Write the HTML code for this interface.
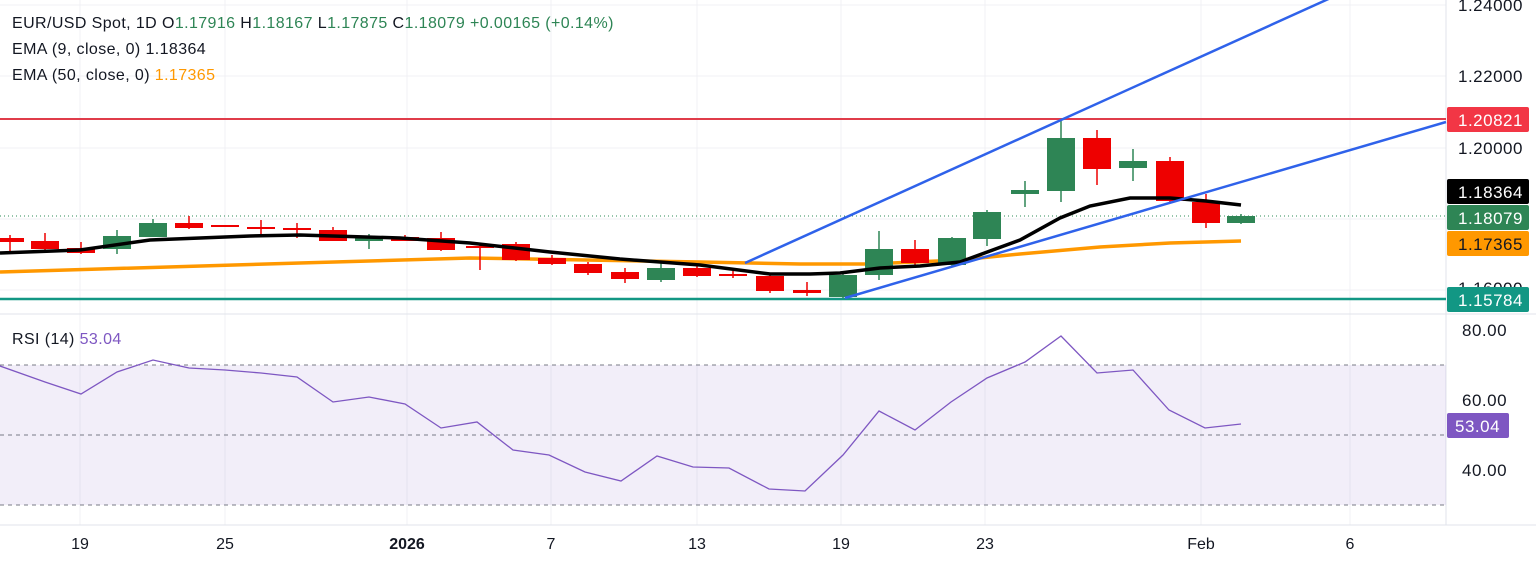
<!DOCTYPE html>
<html><head><meta charset="utf-8"><style>
html,body{margin:0;padding:0;background:#fff;}
svg{display:block;font-family:"Liberation Sans",sans-serif;}
</style></head><body>
<svg width="1536" height="564" viewBox="0 0 1536 564" xmlns="http://www.w3.org/2000/svg">
<rect width="1536" height="564" fill="#fff"/>
<g stroke="#f0f1f4" stroke-width="1">
<line x1="0" y1="5" x2="1446" y2="5"/><line x1="0" y1="76" x2="1446" y2="76"/><line x1="0" y1="148" x2="1446" y2="148"/><line x1="0" y1="219" x2="1446" y2="219"/><line x1="0" y1="290" x2="1446" y2="290"/>
<line x1="80" y1="0" x2="80" y2="525"/><line x1="225" y1="0" x2="225" y2="525"/><line x1="407" y1="0" x2="407" y2="525"/><line x1="551" y1="0" x2="551" y2="525"/><line x1="697" y1="0" x2="697" y2="525"/><line x1="841" y1="0" x2="841" y2="525"/><line x1="985" y1="0" x2="985" y2="525"/><line x1="1201" y1="0" x2="1201" y2="525"/><line x1="1350" y1="0" x2="1350" y2="525"/>
</g>
<line x1="1446" y1="0" x2="1446" y2="525" stroke="#e0e3eb"/>
<line x1="0" y1="314" x2="1536" y2="314" stroke="#e0e3eb"/>
<line x1="0" y1="525" x2="1536" y2="525" stroke="#e0e3eb"/>
<rect x="0" y="365" width="1446" height="140" fill="#7e57c2" fill-opacity="0.1"/>
<g stroke="#787b86" stroke-dasharray="4,4" stroke-width="1">
<line x1="0" y1="365" x2="1446" y2="365"/><line x1="0" y1="435" x2="1446" y2="435"/><line x1="0" y1="505" x2="1446" y2="505"/>
</g>
<line x1="0" y1="119" x2="1446" y2="119" stroke="#e03c4a" stroke-width="2"/>
<line x1="0" y1="299" x2="1446" y2="299" stroke="#129784" stroke-width="2.5"/>
<line x1="0" y1="216" x2="1446" y2="216" stroke="#2e8b57" stroke-dasharray="1,3" stroke-width="1"/>
<polyline fill="none" stroke="#ff9800" stroke-width="3.5" points="0,272 100,269 300,263 470,258 700,262 800,264 870,264 960,260 1020,254 1100,247 1170,243 1241,241"/>
<g stroke-width="1.5">
<line x1="10" y1="235" x2="10" y2="254" stroke="#e00"/>
<line x1="45" y1="233" x2="45" y2="251" stroke="#e00"/>
<line x1="81" y1="242" x2="81" y2="254" stroke="#e00"/>
<line x1="117" y1="230" x2="117" y2="254" stroke="#2e8555"/>
<line x1="153" y1="219" x2="153" y2="237" stroke="#2e8555"/>
<line x1="189" y1="216" x2="189" y2="229" stroke="#e00"/>
<line x1="261" y1="220" x2="261" y2="234" stroke="#e00"/>
<line x1="297" y1="223" x2="297" y2="238" stroke="#e00"/>
<line x1="333" y1="227" x2="333" y2="241" stroke="#e00"/>
<line x1="369" y1="234" x2="369" y2="249" stroke="#2e8555"/>
<line x1="405" y1="235" x2="405" y2="241" stroke="#e00"/>
<line x1="441" y1="232" x2="441" y2="251" stroke="#e00"/>
<line x1="480" y1="245" x2="480" y2="270" stroke="#e00"/>
<line x1="516" y1="242" x2="516" y2="261" stroke="#e00"/>
<line x1="552" y1="255" x2="552" y2="265" stroke="#e00"/>
<line x1="588" y1="262" x2="588" y2="275" stroke="#e00"/>
<line x1="625" y1="268" x2="625" y2="283" stroke="#e00"/>
<line x1="661" y1="262" x2="661" y2="282" stroke="#2e8555"/>
<line x1="697" y1="265" x2="697" y2="277" stroke="#e00"/>
<line x1="733" y1="271" x2="733" y2="278" stroke="#e00"/>
<line x1="770" y1="274" x2="770" y2="293" stroke="#e00"/>
<line x1="807" y1="282" x2="807" y2="296" stroke="#e00"/>
<line x1="843" y1="274" x2="843" y2="298" stroke="#2e8555"/>
<line x1="879" y1="231" x2="879" y2="280" stroke="#2e8555"/>
<line x1="915" y1="240" x2="915" y2="266" stroke="#e00"/>
<line x1="952" y1="237" x2="952" y2="266" stroke="#2e8555"/>
<line x1="987" y1="210" x2="987" y2="246" stroke="#2e8555"/>
<line x1="1025" y1="181" x2="1025" y2="207" stroke="#2e8555"/>
<line x1="1061" y1="121" x2="1061" y2="202" stroke="#2e8555"/>
<line x1="1097" y1="130" x2="1097" y2="185" stroke="#e00"/>
<line x1="1133" y1="149" x2="1133" y2="181" stroke="#2e8555"/>
<line x1="1170" y1="157" x2="1170" y2="203" stroke="#e00"/>
<line x1="1206" y1="194" x2="1206" y2="228" stroke="#e00"/>
<line x1="1241" y1="214" x2="1241" y2="224" stroke="#2e8555"/>
</g>
<g fill="#e00">
<rect x="-4" y="238" width="28" height="4"/>
<rect x="31" y="241" width="28" height="8"/>
<rect x="67" y="248" width="28" height="5"/>
<rect x="175" y="223" width="28" height="5"/>
<rect x="211" y="225" width="28" height="2"/>
<rect x="247" y="227" width="28" height="2"/>
<rect x="283" y="228" width="28" height="2"/>
<rect x="319" y="230" width="28" height="11"/>
<rect x="391" y="237" width="28" height="4"/>
<rect x="427" y="238" width="28" height="12"/>
<rect x="466" y="246" width="28" height="2"/>
<rect x="502" y="244" width="28" height="16"/>
<rect x="538" y="258" width="28" height="6"/>
<rect x="574" y="264" width="28" height="9"/>
<rect x="611" y="272" width="28" height="7"/>
<rect x="683" y="268" width="28" height="8"/>
<rect x="719" y="274" width="28" height="2"/>
<rect x="756" y="276" width="28" height="15"/>
<rect x="793" y="290" width="28" height="3"/>
<rect x="901" y="249" width="28" height="14"/>
<rect x="1083" y="138" width="28" height="31"/>
<rect x="1156" y="161" width="28" height="40"/>
<rect x="1192" y="202" width="28" height="21"/>
</g>
<g fill="#2e8555">
<rect x="103" y="236" width="28" height="13"/>
<rect x="139" y="223" width="28" height="14"/>
<rect x="355" y="237" width="28" height="4"/>
<rect x="647" y="268" width="28" height="12"/>
<rect x="829" y="275" width="28" height="22"/>
<rect x="865" y="249" width="28" height="26"/>
<rect x="938" y="238" width="28" height="27"/>
<rect x="973" y="212" width="28" height="27"/>
<rect x="1011" y="190" width="28" height="4"/>
<rect x="1047" y="138" width="28" height="53"/>
<rect x="1119" y="161" width="28" height="7"/>
<rect x="1227" y="216" width="28" height="7"/>
</g>
<polyline fill="none" stroke="#000" stroke-width="3.5" points="0,253 80,250 150,240 250,236 300,235 400,238 470,243 550,252 620,259 700,265 770,274 810,274 840,273 880,268 920,266 960,262 1020,240 1060,218 1090,206 1130,198 1170,198 1206,201 1241,205"/>
<line x1="745" y1="263" x2="1335" y2="-4" stroke="#2f62ea" stroke-width="2.5"/>
<line x1="845" y1="298" x2="1446" y2="122" stroke="#2f62ea" stroke-width="2.5"/>
<polyline fill="none" stroke="#7e57c2" stroke-width="1.3" points="0,366 45,382 81,394 117,372 153,360 189,368 225,370 261,373 297,377 333,402 369,397 405,404 441,428 477,422 513,450 549,455 585,472 621,481 657,456 693,467 729,468 769,489 805,491 843,455 879,411 915,430 951,402 987,378 1025,362 1061,336 1097,373 1133,370 1169,410 1205,428 1241,424"/>
<g font-size="17" fill="#131722" letter-spacing="0.5">
<text x="1458" y="11">1.24000</text>
<text x="1458" y="82">1.22000</text>
<text x="1458" y="154">1.20000</text>
<text x="1458" y="294">1.16000</text>
<text x="1462" y="336">80.00</text>
<text x="1462" y="406">60.00</text>
<text x="1462" y="476">40.00</text>
</g>
<rect x="1447" y="107" width="82" height="25" rx="2" fill="#f23645"/>
<rect x="1447" y="179" width="82" height="25" rx="2" fill="#000"/>
<rect x="1447" y="205" width="82" height="25" rx="2" fill="#2e8555"/>
<rect x="1447" y="231" width="82" height="25" rx="2" fill="#ff9800"/>
<rect x="1447" y="287" width="82" height="25" rx="2" fill="#129784"/>
<rect x="1447" y="413" width="62" height="25" rx="2" fill="#7e57c2"/>
<g font-size="17" fill="#fff" letter-spacing="0.5">
<text x="1458" y="126">1.20821</text>
<text x="1458" y="198">1.18364</text>
<text x="1458" y="224">1.18079</text>
<text x="1458" y="250" fill="#131722">1.17365</text>
<text x="1458" y="306">1.15784</text>
<text x="1455" y="432">53.04</text>
</g>
<g font-size="16" fill="#131722" text-anchor="middle">
<text x="80" y="549">19</text><text x="225" y="549">25</text><text x="407" y="549" font-weight="bold">2026</text><text x="551" y="549">7</text><text x="697" y="549">13</text><text x="841" y="549">19</text><text x="985" y="549">23</text><text x="1201" y="549">Feb</text><text x="1350" y="549">6</text>
</g>
<g font-size="16" fill="#131722" letter-spacing="0.4">
<text x="12" y="28">EUR/USD Spot, 1D  O<tspan fill="#2e8555">1.17916</tspan>  H<tspan fill="#2e8555">1.18167</tspan>  L<tspan fill="#2e8555">1.17875</tspan>  C<tspan fill="#2e8555">1.18079</tspan>  <tspan fill="#2e8555">+0.00165 (+0.14%)</tspan></text>
<text x="12" y="54">EMA (9, close, 0)  1.18364</text>
<text x="12" y="80">EMA (50, close, 0)  <tspan fill="#ff9800">1.17365</tspan></text>
<text x="12" y="344">RSI (14)  <tspan fill="#7e57c2">53.04</tspan></text>
</g>
</svg>
</body></html>
